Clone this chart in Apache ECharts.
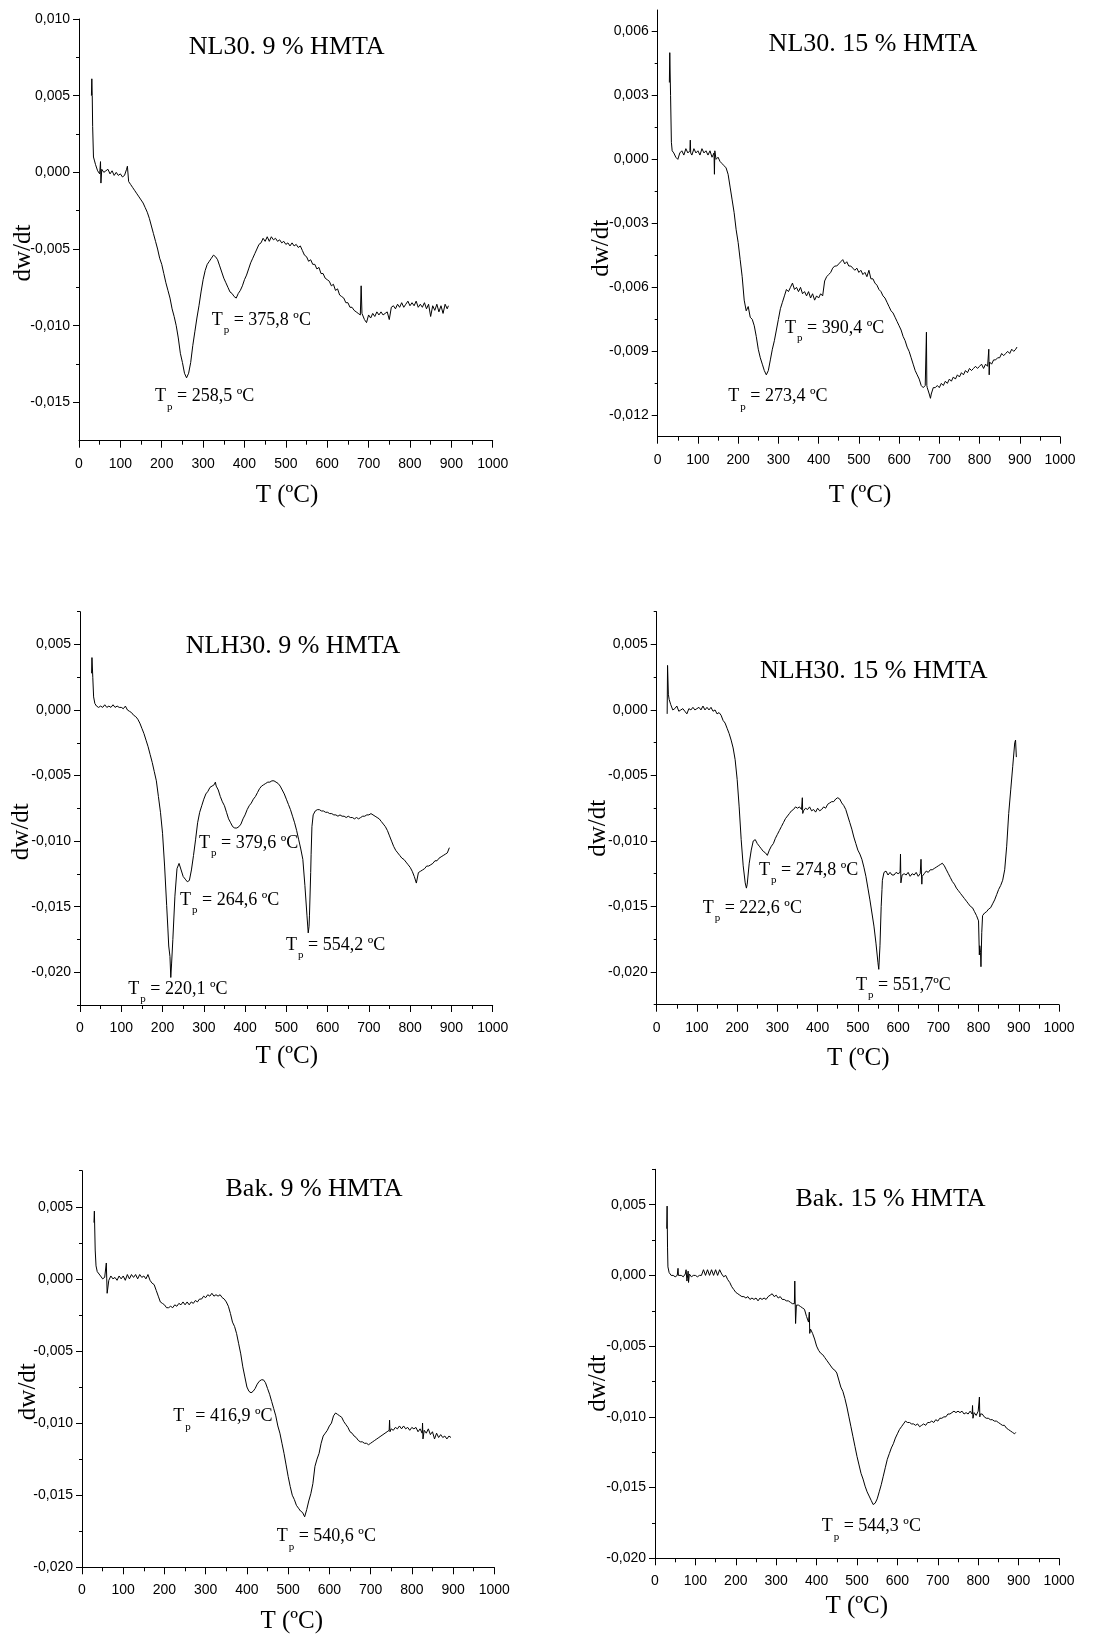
<!DOCTYPE html>
<html><head><meta charset="utf-8">
<script src="https://cdn.jsdelivr.net/npm/echarts@6/dist/echarts.min.js"></script>
<style>html,body{margin:0;padding:0;background:#fff}#main{width:1098px;height:1635px}</style>
</head><body><div id="main"></div>
<script>
// ---------------- DATA ----------------
const temps = [
40,45,50,55,60,65,70,75,80,85,
90,95,100,105,110,115,120,125,130,135,
140,145,150,155,160,165,170,175,180,185,
190,195,200,205,210,215,220,225,230,235,
240,245,250,255,260,265,270,275,280,285,
290,295,300,305,310,315,320,325,330,335,
340,345,350,355,360,365,370,375,380,385,
390,395,400,405,410,415,420,425,430,435,
440,445,450,455,460,465,470,475,480,485,
490,495,500,505,510,515,520,525,530,535,
540,545,550,555,560,565,570,575,580,585,
590,595,600,605,610,615,620,625,630,635,
640,645,650,655,660,665,670,675,680,685,
690,695,700,705,710,715,720,725,730,735,
740,745,750,755,760,765,770,775,780,785,
790,795,800,805,810,815,820,825,830,835,
840,845,850,855,860,865,870,875,880,885,
890];

const titles = ['NL30. 9 % HMTA','NL30. 15 % HMTA','NLH30. 9 % HMTA','NLH30. 15 % HMTA','Bak. 9 % HMTA','Bak. 15 % HMTA'];
const peakLabels = [
  ['375,8 ºC','258,5 ºC'],
  ['390,4 ºC','273,4 ºC'],
  ['379,6 ºC','264,6 ºC','220,1 ºC','554,2 ºC'],
  ['274,8 ºC','222,6 ºC','551,7ºC'],
  ['416,9 ºC','540,6 ºC'],
  ['544,3 ºC']
];
const xLabel = 'T (ºC)';
const yLabel = 'dw/dt';
const xRange = [0, 1000];
const xStep = 100;
const yRanges = [[-0.0175,0.010],[-0.013,0.007],[-0.0225,0.0075],[-0.0225,0.0075],[-0.020,0.0075],[-0.020,0.0075]];
const yTicks1 = [-0.015,-0.010,-0.005,0,0.005,0.010];
const yMinor1 = [-0.0125,-0.0075,-0.0025,0.0025,0.0075];
const yTicks2 = [-0.012,-0.009,-0.006,-0.003,0,0.003,0.006];
const yMinor2 = [-0.0105,-0.0075,-0.0045,-0.0015,0.0015,0.0045];
const yTicks3 = [-0.020,-0.015,-0.010,-0.005,0,0.005];
const yMinor3 = [-0.0225,-0.0175,-0.0125,-0.0075,-0.0025,0.0025,0.0075];
const yTicks4 = [-0.020,-0.015,-0.010,-0.005,0,0.005];
const yMinor4 = [-0.0225,-0.0175,-0.0125,-0.0075,-0.0025,0.0025,0.0075];
const yTicks5 = [-0.020,-0.015,-0.010,-0.005,0,0.005];
const yMinor5 = [-0.0175,-0.0125,-0.0075,-0.0025,0.0025,0.0075];
const yTicks6 = [-0.020,-0.015,-0.010,-0.005,0,0.005];
const yMinor6 = [-0.0175,-0.0125,-0.0075,-0.0025,0.0025,0.0075];

// NL30 9 %
const dw1 = [
.0005,.0001,-.0001,.0002,.0000,.0001,.0002,-.0001,.0001,-.0002,
.0000,-.0002,-.0001,-.0003,-.0002,.0002,-.0006,-.0008,-.0010,-.0012,
-.0014,-.0016,-.0018,-.0020,-.0023,-.0026,-.0030,-.0035,-.0040,-.0045,
-.0050,-.0056,-.0060,-.0066,-.0072,-.0077,-.0082,-.0089,-.0094,-.0100,
-.0108,-.0118,-.0124,-.0131,-.0134,-.0131,-.0124,-.0113,-.0104,-.0095,
-.0087,-.0078,-.0070,-.0064,-.0060,-.0058,-.0056,-.0054,-.0055,-.0057,
-.0061,-.0065,-.0069,-.0072,-.0075,-.0078,-.0079,-.0081,-.0082,-.0079,
-.0077,-.0074,-.0070,-.0067,-.0063,-.0059,-.0056,-.0053,-.0050,-.0047,
-.0046,-.0043,-.0045,-.0042,-.0045,-.0042,-.0044,-.0043,-.0045,-.0044,
-.0046,-.0045,-.0047,-.0046,-.0048,-.0046,-.0048,-.0047,-.0049,-.0048,
-.0051,-.0054,-.0055,-.0058,-.0057,-.0060,-.0060,-.0063,-.0062,-.0066,
-.0066,-.0069,-.0070,-.0071,-.0074,-.0073,-.0077,-.0076,-.0080,-.0081,
-.0082,-.0085,-.0085,-.0088,-.0088,-.0090,-.0091,-.0092,-.0093,-.0093,
-.0096,-.0098,-.0093,-.0095,-.0092,-.0094,-.0091,-.0093,-.0091,-.0093,
-.0092,-.0091,-.0096,-.0088,-.0087,-.0089,-.0086,-.0088,-.0085,-.0088,
-.0086,-.0084,-.0087,-.0085,-.0087,-.0084,-.0088,-.0086,-.0088,-.0085,
-.0089,-.0086,-.0094,-.0087,-.0090,-.0086,-.0091,-.0087,-.0092,-.0086,
-.0089];
const extra1 = [[30,.0050],[31,.0061],[32,.0050],[33,.0030],[35,.0010],[37,.0008],[52,.0007],[53,-.0007],[117,.0004],[682,-.0074],[684,-.0092],[893,-.0087]];

// NL30 15 %
const dw2 = [
.0003,.0001,.0000,.0003,.0004,.0002,.0005,.0003,.0004,.0002,
.0005,.0003,.0004,.0002,.0005,.0003,.0004,.0002,.0004,.0001,
.0003,.0000,.0001,-.0001,-.0002,-.0003,-.0004,-.0007,-.0013,-.0019,
-.0025,-.0033,-.0039,-.0047,-.0055,-.0066,-.0071,-.0069,-.0074,-.0075,
-.0078,-.0083,-.0089,-.0093,-.0096,-.0099,-.0101,-.0099,-.0094,-.0089,
-.0085,-.0080,-.0075,-.0070,-.0067,-.0064,-.0061,-.0062,-.0060,-.0058,
-.0061,-.0060,-.0062,-.0060,-.0063,-.0062,-.0064,-.0062,-.0065,-.0063,
-.0066,-.0064,-.0065,-.0063,-.0064,-.0057,-.0055,-.0054,-.0053,-.0051,
-.0050,-.0050,-.0049,-.0048,-.0047,-.0049,-.0048,-.0050,-.0050,-.0051,
-.0052,-.0051,-.0053,-.0052,-.0054,-.0053,-.0055,-.0052,-.0056,-.0056,
-.0058,-.0059,-.0061,-.0062,-.0064,-.0065,-.0067,-.0069,-.0071,-.0072,
-.0074,-.0076,-.0078,-.0080,-.0083,-.0085,-.0088,-.0090,-.0093,-.0096,
-.0099,-.0101,-.0103,-.0106,-.0107,-.0106,-.0107,-.0110,-.0110,-.0107,
-.0107,-.0106,-.0107,-.0105,-.0106,-.0104,-.0105,-.0103,-.0104,-.0102,
-.0103,-.0101,-.0102,-.0100,-.0101,-.0099,-.0100,-.0098,-.0099,-.0098,
-.0097,-.0098,-.0097,-.0096,-.0098,-.0096,-.0097,-.0095,-.0096,-.0094,
-.0094,-.0093,-.0093,-.0091,-.0092,-.0091,-.0090,-.0091,-.0089,-.0090,
-.0089];
const extra2 = [[29,.0036],[30,.0050],[32,.0030],[34,.0008],[36,.0004],[81,.0009],[82,.0003],[141,-.0007],[142,.0004],[667,-.0106],[668,-.0081],[669,-.0106],[678,-.0112],[823,-.0089],[824,-.0101],[893,-.0088]];

// NLH30 9 %
const dw3 = [
.0003,.0002,.0003,.0002,.0004,.0002,.0003,.0002,.0004,.0002,
.0003,.0002,.0002,.0001,.0003,.0000,-.0001,-.0002,-.0004,-.0005,
-.0007,-.0010,-.0014,-.0018,-.0023,-.0028,-.0034,-.0040,-.0047,-.0054,
-.0066,-.0078,-.0094,-.0119,-.0149,-.0180,-.0204,-.0175,-.0142,-.0121,
-.0117,-.0122,-.0127,-.0129,-.0131,-.0130,-.0122,-.0111,-.0099,-.0086,
-.0078,-.0073,-.0068,-.0064,-.0062,-.0059,-.0058,-.0057,-.0058,-.0061,
-.0066,-.0070,-.0073,-.0078,-.0083,-.0086,-.0089,-.0090,-.0090,-.0089,
-.0087,-.0083,-.0080,-.0076,-.0073,-.0071,-.0068,-.0066,-.0063,-.0060,
-.0058,-.0057,-.0056,-.0055,-.0055,-.0054,-.0054,-.0055,-.0056,-.0058,
-.0061,-.0064,-.0068,-.0072,-.0076,-.0081,-.0086,-.0092,-.0099,-.0106,
-.0114,-.0134,-.0157,-.0165,-.0110,-.0080,-.0077,-.0076,-.0076,-.0077,
-.0077,-.0078,-.0078,-.0079,-.0079,-.0080,-.0080,-.0081,-.0080,-.0081,
-.0081,-.0082,-.0081,-.0082,-.0082,-.0083,-.0082,-.0083,-.0082,-.0081,
-.0081,-.0080,-.0080,-.0079,-.0080,-.0081,-.0082,-.0083,-.0085,-.0087,
-.0089,-.0092,-.0096,-.0100,-.0104,-.0107,-.0109,-.0111,-.0113,-.0114,
-.0116,-.0118,-.0120,-.0123,-.0127,-.0132,-.0124,-.0123,-.0122,-.0121,
-.0119,-.0119,-.0118,-.0117,-.0115,-.0115,-.0113,-.0112,-.0111,-.0110,
-.0109];
const extra3 = [[28,.0028],[29,.0040],[31,.0025],[33,.0010],[36,.0005],[213,-.0167],[218,-.0188],[222,-.0193],[242,-.0116],[264,-.0132],[328,-.0055],[553,-.0170],[556,-.0157],[559,-.0124],[562,-.0089],[895,-.0105]];

// NLH30 15 %
const dw4 = [
.0000,.0001,.0003,-.0001,.0000,.0001,-.0001,-.0003,.0001,.0000,
.0002,.0000,.0001,.0002,.0000,.0003,.0000,.0002,.0000,.0002,
-.0001,.0000,-.0003,-.0002,-.0004,-.0008,-.0010,-.0014,-.0018,-.0023,
-.0029,-.0038,-.0053,-.0074,-.0099,-.0119,-.0132,-.0133,-.0117,-.0107,
-.0100,-.0099,-.0102,-.0104,-.0106,-.0108,-.0109,-.0111,-.0107,-.0104,
-.0102,-.0098,-.0095,-.0092,-.0089,-.0086,-.0083,-.0081,-.0079,-.0077,
-.0076,-.0074,-.0075,-.0074,-.0076,-.0077,-.0075,-.0076,-.0074,-.0077,
-.0076,-.0078,-.0075,-.0077,-.0076,-.0074,-.0075,-.0072,-.0071,-.0070,
-.0070,-.0068,-.0067,-.0068,-.0071,-.0073,-.0076,-.0081,-.0086,-.0091,
-.0097,-.0102,-.0107,-.0110,-.0114,-.0120,-.0127,-.0136,-.0145,-.0155,
-.0165,-.0178,-.0193,-.0180,-.0137,-.0124,-.0123,-.0126,-.0124,-.0126,
-.0126,-.0124,-.0125,-.0124,-.0126,-.0125,-.0126,-.0124,-.0127,-.0125,
-.0126,-.0124,-.0127,-.0125,-.0127,-.0125,-.0123,-.0124,-.0122,-.0122,
-.0121,-.0120,-.0119,-.0118,-.0117,-.0119,-.0122,-.0125,-.0128,-.0131,
-.0133,-.0136,-.0138,-.0140,-.0142,-.0144,-.0146,-.0148,-.0150,-.0151,
-.0154,-.0157,-.0161,-.0185,-.0157,-.0155,-.0154,-.0152,-.0151,-.0148,
-.0145,-.0141,-.0137,-.0134,-.0130,-.0122,-.0104,-.0079,-.0061,-.0043,
-.0025];
const extra4 = [[26,-.0003],[27,.0034],[29,.0012],[31,.0008],[35,.0004],[223,-.0136],[362,-.0067],[363,-.0079],[552,-.0198],[558,-.0150],[561,-.0130],[606,-.0110],[607,-.0132],[657,-.0114],[659,-.0133],[802,-.0187],[803,-.0180],[804,-.0179],[806,-.0196],[808,-.0170],[892,-.0023],[894,-.0036]];

// Bak 9 %
const dw5 = [
.0004,.0002,.0000,.0001,.0000,-.0001,.0002,.0000,.0001,-.0001,
.0002,.0000,.0002,-.0001,.0003,.0000,.0003,.0001,.0003,.0000,
.0003,.0001,.0002,.0000,.0003,-.0001,-.0003,-.0004,-.0008,-.0012,
-.0016,-.0017,-.0018,-.0020,-.0020,-.0019,-.0020,-.0018,-.0019,-.0017,
-.0018,-.0016,-.0018,-.0016,-.0018,-.0016,-.0017,-.0015,-.0016,-.0014,
-.0014,-.0012,-.0013,-.0011,-.0012,-.0010,-.0012,-.0011,-.0012,-.0011,
-.0013,-.0014,-.0016,-.0019,-.0024,-.0030,-.0033,-.0038,-.0045,-.0052,
-.0061,-.0068,-.0075,-.0078,-.0079,-.0078,-.0076,-.0073,-.0071,-.0070,
-.0070,-.0072,-.0076,-.0080,-.0085,-.0090,-.0095,-.0102,-.0107,-.0114,
-.0121,-.0129,-.0137,-.0144,-.0150,-.0153,-.0157,-.0159,-.0161,-.0162,
-.0165,-.0160,-.0154,-.0149,-.0142,-.0130,-.0125,-.0121,-.0114,-.0109,
-.0107,-.0105,-.0102,-.0100,-.0095,-.0093,-.0094,-.0095,-.0096,-.0099,
-.0101,-.0103,-.0106,-.0107,-.0109,-.0110,-.0112,-.0113,-.0113,-.0114,
-.0114,-.0115,-.0114,-.0113,-.0112,-.0111,-.0110,-.0109,-.0108,-.0107,
-.0106,-.0105,-.0104,-.0105,-.0103,-.0104,-.0102,-.0104,-.0102,-.0104,
-.0103,-.0105,-.0103,-.0104,-.0103,-.0106,-.0104,-.0107,-.0105,-.0107,
-.0104,-.0108,-.0106,-.0111,-.0107,-.0110,-.0108,-.0110,-.0109,-.0111,
-.0109];
const extra5 = [[29,.0039],[30,.0047],[32,.0020],[34,.0009],[37,.0005],[59,.0011],[61,-.0010],[746,-.0098],[747,-.0106],[826,-.0100],[827,-.0111],[895,-.0110]];

// Bak 15 %
const dw6 = [
.0000,.0000,-.0001,.0000,.0000,.0000,-.0001,.0001,-.0002,.0001,
-.0001,.0000,.0000,-.0001,.0000,.0000,.0004,.0000,.0004,.0000,
.0004,.0000,.0004,.0000,.0004,.0001,-.0001,.0000,-.0003,-.0005,
-.0008,-.0010,-.0012,-.0013,-.0014,-.0015,-.0015,-.0016,-.0015,-.0017,
-.0016,-.0017,-.0016,-.0018,-.0016,-.0017,-.0016,-.0017,-.0015,-.0014,
-.0013,-.0015,-.0014,-.0016,-.0015,-.0017,-.0017,-.0018,-.0018,-.0019,
-.0020,-.0020,-.0021,-.0021,-.0022,-.0023,-.0024,-.0029,-.0033,-.0038,
-.0041,-.0045,-.0050,-.0053,-.0055,-.0056,-.0058,-.0060,-.0062,-.0064,
-.0066,-.0067,-.0069,-.0074,-.0079,-.0082,-.0087,-.0093,-.0100,-.0107,
-.0114,-.0121,-.0128,-.0134,-.0140,-.0144,-.0149,-.0153,-.0156,-.0159,
-.0162,-.0161,-.0158,-.0153,-.0148,-.0142,-.0136,-.0130,-.0126,-.0122,
-.0119,-.0115,-.0112,-.0109,-.0107,-.0105,-.0103,-.0104,-.0104,-.0105,
-.0105,-.0106,-.0105,-.0107,-.0106,-.0105,-.0106,-.0104,-.0104,-.0103,
-.0104,-.0102,-.0103,-.0101,-.0101,-.0100,-.0100,-.0098,-.0098,-.0097,
-.0096,-.0097,-.0096,-.0097,-.0096,-.0098,-.0097,-.0098,-.0096,-.0098,
-.0097,-.0099,-.0096,-.0098,-.0098,-.0100,-.0101,-.0101,-.0102,-.0102,
-.0103,-.0103,-.0104,-.0105,-.0106,-.0106,-.0108,-.0109,-.0110,-.0111,
-.0112];
const extra6 = [[29,.0033],[30,.0049],[31,.0020],[32,.0006],[35,.0002],[57,.0005],[58,.0000],[77,.0004],[79,-.0004],[82,.0003],[83,-.0005],[346,-.0004],[348,-.0034],[382,-.0026],[383,-.0041],[786,-.0092],[787,-.0101],[803,-.0086],[804,-.0100],[893,-.0111]];

// ---------------- LAYOUT (pixels) ----------------
const layout = [
 {grid:[79,19,413.7,421.7], title:[286.7,47], yName:[23.3,253], xName:[287,495], notes:[[211.7,320],[155,396.7]]},
 {grid:[657.7,10,402.3,426.7], title:[873,44], yName:[601.7,248.3], xName:[860,495], notes:[[785,328.3],[728.3,396.7]]},
 {grid:[80,611.7,412.7,393.3], title:[293,646], yName:[21.7,831.7], xName:[286.7,1056.7], notes:[[199,843.3],[180,900],[128.3,989.3],[286,945]]},
 {grid:[656.7,611.7,402.3,393], title:[873.7,671], yName:[598.3,828.3], xName:[858.3,1058.3], notes:[[759,870],[702.7,908.3],[856,985]]},
 {grid:[82,1170.7,412.3,396.6], title:[314,1189], yName:[28.3,1391.7], xName:[291.7,1621.7], notes:[[173.3,1416.7],[276.7,1536.7]]},
 {grid:[655,1169.3,404,389], title:[890.5,1199], yName:[598.3,1383.3], xName:[856.7,1606.7], notes:[[821.7,1526.7]]}
];

// ---------------- BUILD ----------------
const dws = [dw1,dw2,dw3,dw4,dw5,dw6];
const extras = [extra1,extra2,extra3,extra4,extra5,extra6];
const yTicks = [yTicks1,yTicks2,yTicks3,yTicks4,yTicks5,yTicks6];
const yMinors = [yMinor1,yMinor2,yMinor3,yMinor4,yMinor5,yMinor6];
dws.forEach((d,i)=>{ if (d.length !== temps.length) throw new Error('dw'+(i+1)+' length '+d.length); });

function buildSeries(vals, ex) {
  const pts = temps.map((t,i)=>[t, vals[i]]).concat(ex);
  pts.sort((a,b)=>a[0]-b[0]);
  return pts;
}

const SERIF = "'Liberation Serif','Times New Roman',serif";
const SANS = "'Liberation Sans Narrow','Liberation Sans',Arial,sans-serif";
const fmt = v => (Math.abs(v) < 1e-12 ? 0 : v).toFixed(3).replace('.', ',');
const black = '#000';
const mctx = document.createElement('canvas').getContext('2d');
function textW(t, size) { mctx.font = size + 'px ' + SERIF; return mctx.measureText(t).width; }

const grids=[], xAxes=[], yAxes=[], series=[], graphics=[];
layout.forEach((L,i)=>{
  const [gl,gt,gw,gh] = L.grid;
  grids.push({left:gl, top:gt, width:gw, height:gh, show:false, containLabel:false, outerBoundsMode:'none'});
  xAxes.push({type:'value', gridIndex:i, min:xRange[0], max:xRange[1], interval:xStep, position:'bottom',
    axisLine:{show:true, onZero:false, lineStyle:{color:black, width:1}},
    axisTick:{show:true, length:7, lineStyle:{color:black, width:1}},
    minorTick:{show:true, splitNumber:2, length:4, lineStyle:{color:black, width:1}},
    axisLabel:{color:black, fontFamily:SANS, fontSize:14, margin:16, formatter: v => String(v), showMinLabel:true, showMaxLabel:true, hideOverlap:false},
    splitLine:{show:false}, minorSplitLine:{show:false}});
  const [ymin,ymax] = yRanges[i];
  yAxes.push({type:'value', gridIndex:i, min:ymin, max:ymax, position:'left',
    axisLine:{show:true, onZero:false, lineStyle:{color:black, width:1}},
    axisTick:{show:true, length:6, customValues:yTicks[i], lineStyle:{color:black, width:1}},
    axisLabel:{show:true, customValues:yTicks[i], formatter:fmt, color:black, fontFamily:SANS, fontSize:14, margin:9, hideOverlap:false},
    splitLine:{show:false}});
  yAxes.push({type:'value', gridIndex:i, min:ymin, max:ymax, position:'left', offset:0,
    axisLine:{show:false, onZero:false},
    axisTick:{show:true, length:3, customValues:yMinors[i], lineStyle:{color:black, width:1}},
    axisLabel:{show:false},
    splitLine:{show:false}});
  series.push({type:'line', xAxisIndex:i, yAxisIndex:2*i, data:buildSeries(dws[i], extras[i]),
    showSymbol:false, symbol:'none', lineStyle:{color:black, width:1}, silent:true, animation:false});

  graphics.push({type:'text', x:L.title[0], y:L.title[1], silent:true,
    style:{text:titles[i], fontSize:26, fontFamily:SERIF, fill:black, align:'center', verticalAlign:'middle', textAlign:'center', textVerticalAlign:'middle'}});
  graphics.push({type:'text', x:L.xName[0], y:L.xName[1], silent:true,
    style:{text:xLabel, fontSize:25, fontFamily:SERIF, fill:black, align:'center', verticalAlign:'middle', textAlign:'center', textVerticalAlign:'middle'}});
  graphics.push({type:'text', x:L.yName[0], y:L.yName[1], rotation:Math.PI/2, silent:true,
    style:{text:yLabel, fontSize:25, fontFamily:SERIF, fill:black, align:'center', verticalAlign:'middle', textAlign:'center', textVerticalAlign:'middle'}});
  peakLabels[i].forEach((lab,k)=>{
    const [nx,ny] = L.notes[k];
    const wT = textW('T', 18), wp = textW('p', 11);
    const st = (txt, size) => ({text:txt, fontSize:size, fontFamily:SERIF, fill:black, align:'left', verticalAlign:'middle', textAlign:'left', textVerticalAlign:'middle'});
    graphics.push({type:'text', x:nx, y:ny, silent:true, style:st('T',18)});
    graphics.push({type:'text', x:nx+wT+1, y:ny+10, silent:true, style:st('p',11)});
    graphics.push({type:'text', x:nx+wT+1+wp, y:ny, silent:true, style:st(' = '+lab,18)});
  });
});

const chart = echarts.init(document.getElementById('main'), null, {renderer:'canvas', width:1098, height:1635});
chart.setOption({
  backgroundColor:'#fff', animation:false,
  grid:grids, xAxis:xAxes, yAxis:yAxes, series:series, graphic:graphics
});
</script>
</body></html>
